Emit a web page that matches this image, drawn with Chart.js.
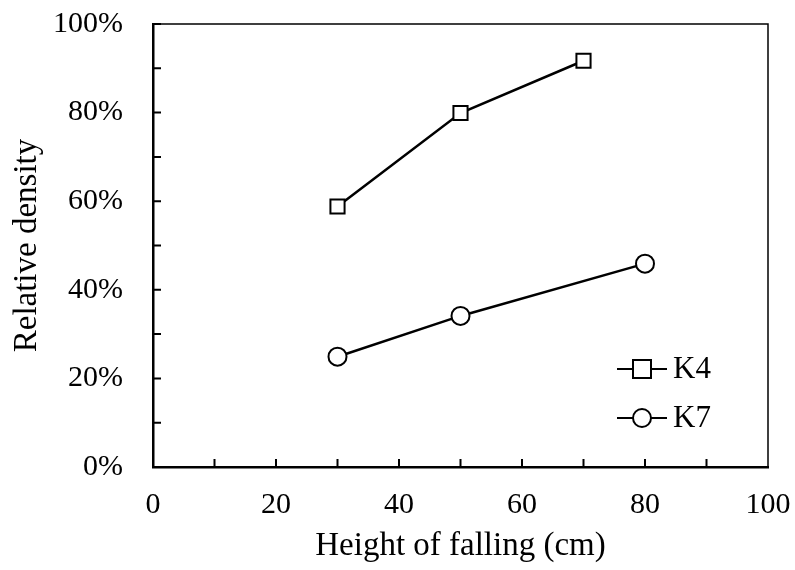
<!DOCTYPE html>
<html>
<head>
<meta charset="utf-8">
<script src="https://cdn.jsdelivr.net/npm/chart.js@4"></script>
<style>
  html, body { margin: 0; padding: 0; background: #fff; }
  #wrap { width: 795px; height: 570px; }
</style>
</head>
<body>
<div id="wrap"><canvas id="myChart" width="795" height="570"></canvas></div>
<script>
// data
const k4Height = [30, 50, 70];
const k4Density = [58.8, 79.9, 91.7];
const k7Height = [30, 50, 80];
const k7Density = [24.9, 34.1, 45.9];
const seriesNames = ['K4', 'K7'];
const xTicks = [0, 20, 40, 60, 80, 100];
const yTicks = [0, 20, 40, 60, 80, 100];

const FONT = 'Liberation Serif, Times New Roman, serif';

function pairs(xs, ys) {
  return xs.map((x, i) => ({ x: x, y: ys[i] }));
}

// inward tick marks, top/right frame and the small legend inside the plot
const framePlugin = {
  id: 'frame',
  afterDraw(chart) {
    const ctx = chart.ctx;
    const a = chart.chartArea;
    const xs = chart.scales.x, ys = chart.scales.y;
    ctx.save();
    ctx.strokeStyle = '#000';
    ctx.lineWidth = 1.5;
    ctx.beginPath();
    ctx.moveTo(a.left, a.top); ctx.lineTo(a.right, a.top); ctx.lineTo(a.right, a.bottom);
    ctx.stroke();

    ctx.lineWidth = 2;
    ctx.beginPath();
    for (let v = 10; v < 100; v += 10) {
      const px = xs.getPixelForValue(v);
      ctx.moveTo(px, a.bottom); ctx.lineTo(px, a.bottom - 8);
    }
    for (let v = 10; v <= 100; v += 10) {
      const py = ys.getPixelForValue(v);
      ctx.moveTo(a.left, py); ctx.lineTo(a.left + 8, py);
    }
    ctx.stroke();

    // legend
    const lx = 617, ly = [369, 418];
    chart.data.datasets.forEach((ds, i) => {
      const y = ly[i];
      ctx.lineWidth = 2;
      ctx.strokeStyle = '#000';
      ctx.beginPath();
      ctx.moveTo(lx, y); ctx.lineTo(lx + 50, y);
      ctx.stroke();
      ctx.fillStyle = '#fff';
      ctx.beginPath();
      if (ds.pointStyle === 'rect') {
        ctx.rect(lx + 25 - 9, y - 9, 18, 18);
      } else {
        ctx.arc(lx + 25, y, 9, 0, Math.PI * 2);
      }
      ctx.fill(); ctx.stroke();
      ctx.fillStyle = '#000';
      ctx.font = '31px ' + FONT;
      ctx.textBaseline = 'middle';
      ctx.textAlign = 'left';
      ctx.fillText(ds.label, lx + 56, y + 1);
    });
    ctx.restore();
  }
};

const data = {
  datasets: [{
    label: seriesNames[0],
    data: pairs(k4Height, k4Density),
    borderColor: '#000',
    borderWidth: 2.5,
    backgroundColor: '#fff',
    pointStyle: 'rect',
    pointRadius: 10,
    pointBorderWidth: 2,
    pointBackgroundColor: '#fff',
    pointBorderColor: '#000'
  }, {
    label: seriesNames[1],
    data: pairs(k7Height, k7Density),
    borderColor: '#000',
    borderWidth: 2.5,
    backgroundColor: '#fff',
    pointStyle: 'circle',
    pointRadius: 9,
    pointBorderWidth: 2,
    pointBackgroundColor: '#fff',
    pointBorderColor: '#000'
  }]
};

const config = {
  type: 'line',
  data,
  plugins: [framePlugin],
  options: {
    responsive: false,
    animation: false,
    layout: { padding: { top: 24, right: 27, left: 0, bottom: 0 } },
    plugins: { legend: { display: false }, tooltip: { enabled: false } },
    scales: {
      x: {
        type: 'linear',
        min: 0, max: 100,
        afterBuildTicks: s => { s.ticks = xTicks.map(v => ({ value: v })); },
        afterFit: s => { s.height = 103; s.paddingLeft = 0; s.paddingRight = 0; },
        grid: { display: false, drawTicks: false },
        border: { color: '#000', width: 2.5 },
        ticks: { color: '#000', padding: 20, font: { family: FONT, size: 30 } },
        title: { display: true, text: 'Height of falling (cm)', color: '#000', padding: { top: 6, bottom: 4 }, font: { family: FONT, size: 33 } }
      },
      y: {
        type: 'linear',
        min: 0, max: 100,
        afterBuildTicks: s => { s.ticks = yTicks.map(v => ({ value: v })); },
        afterFit: s => { s.width = 153; s.paddingTop = 0; s.paddingBottom = 0; },
        grid: { display: false, drawTicks: false },
        border: { color: '#000', width: 2.5 },
        ticks: { color: '#000', padding: 30, font: { family: FONT, size: 30 }, callback: v => v + '%' },
        title: { display: true, text: 'Relative density', color: '#000', padding: { top: 8, bottom: 0 }, font: { family: FONT, size: 33 } }
      }
    }
  }
};

const myChart = new Chart(document.getElementById('myChart'), config);
</script>
</body>
</html>
